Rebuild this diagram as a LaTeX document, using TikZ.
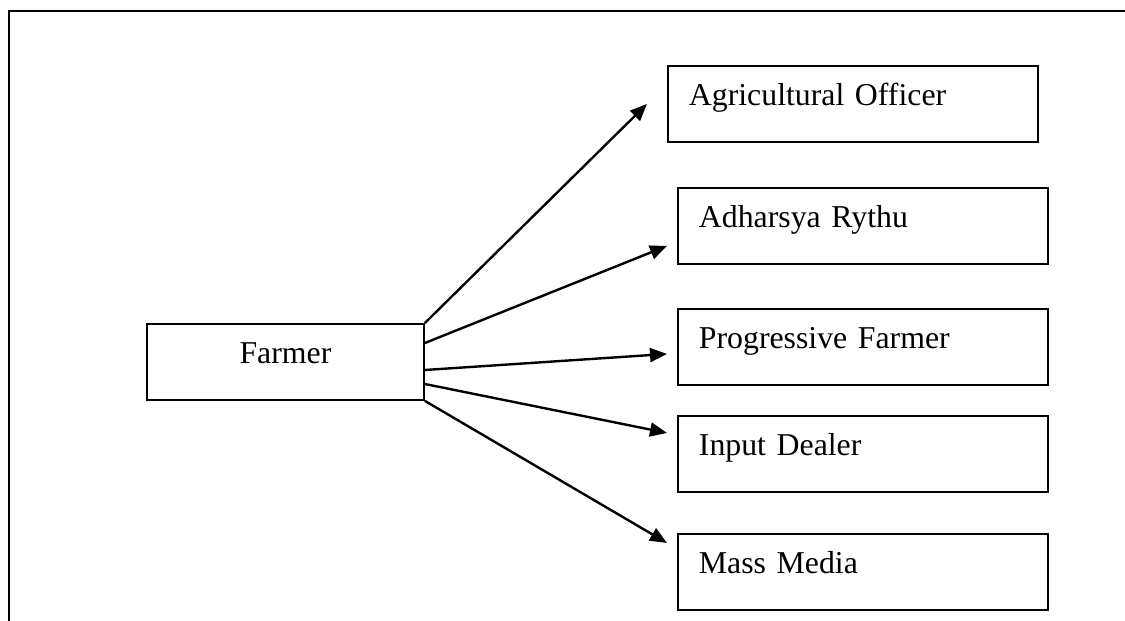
\documentclass[tikz,border=0pt]{standalone}
\usepackage{fontspec}
\setmainfont{Liberation Serif}
\usetikzlibrary{arrows.meta,calc}
\begin{document}
\begin{tikzpicture}[x=1pt,y=-1pt,
  every node/.style={font=\fontsize{31.8}{38}\selectfont},
  targetbox/.style={draw, line width=1.9pt, anchor=north west, inner xsep=21pt, inner ysep=0pt,
    text width=328pt, text height=40pt, text depth=36pt, align=left},
  srcbox/.style={draw, line width=1.9pt, anchor=north west, inner xsep=0pt, inner ysep=0pt,
    text width=277pt, text height=40pt, text depth=36pt, align=center},
  link/.style={line width=2.4pt, -{Triangle[length=17pt,width=14pt]}},
  frame/.style={line width=2pt}]
\useasboundingbox (0,0) rectangle (1125,621);
\draw[frame] (9,621) -- (9,11) -- (1125,11);
\node[srcbox] (farmer) at (146,323) {Farmer};
\node[targetbox] (ao) at (667,65) {Agricultural Officer};
\node[targetbox] (ar) at (677,187) {Adharsya Rythu};
\node[targetbox] (pf) at (677,308) {Progressive Farmer};
\node[targetbox] (id) at (677,415) {Input Dealer};
\node[targetbox] (mm) at (677,533) {Mass Media};
\coordinate (t1) at ($(ao.west)+(-20,0)$);
\coordinate (t2) at ($(ar.west)+(-10,20)$);
\coordinate (t3) at ($(pf.west)+(-10,7)$);
\coordinate (t4) at ($(id.west)+(-10,-21)$);
\coordinate (t5) at ($(mm.west)+(-10,-29)$);
\draw[link] (farmer.north east) -- (t1);
\draw[link] ($(farmer.north east)+(0,20)$) -- (t2);
\draw[link] ($(farmer.north east)+(0,47)$) -- (t3);
\draw[link] ($(farmer.north east)+(0,61)$) -- (t4);
\draw[link] (farmer.south east) -- (t5);
\end{tikzpicture}
\end{document}
